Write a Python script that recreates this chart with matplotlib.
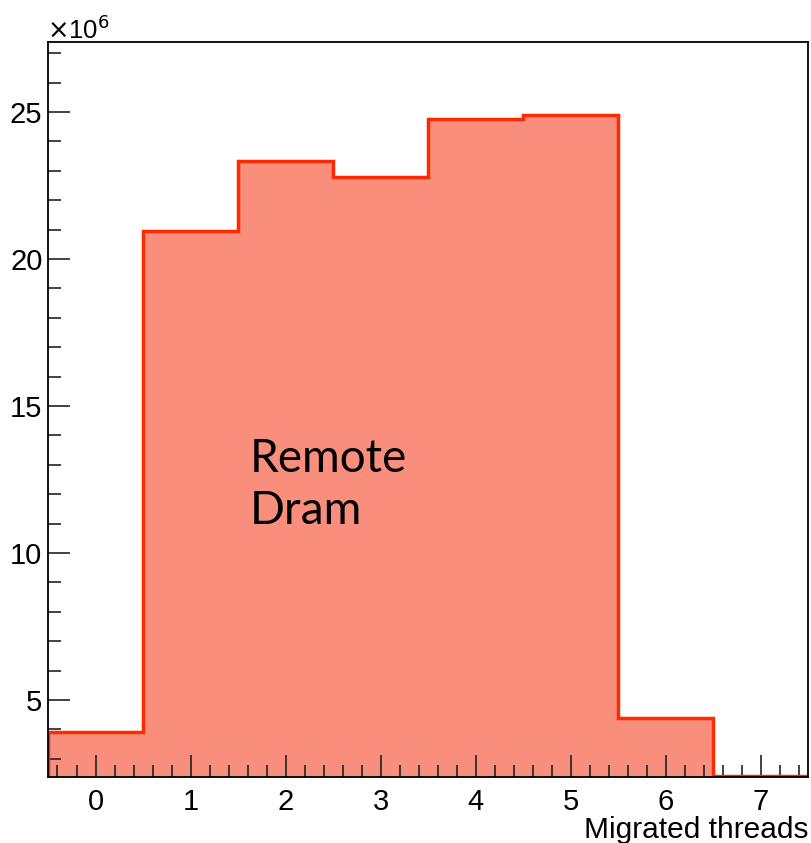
import matplotlib.pyplot as plt
import numpy as np
from matplotlib.ticker import FuncFormatter, MultipleLocator

# Remote DRAM accesses per number of migrated threads
threads = [0, 1, 2, 3, 4, 5, 6, 7]
remote_dram = [3.91e6, 20.95e6, 23.33e6, 22.79e6, 24.76e6, 24.90e6, 4.39e6, 2.40e6]

plt.rcParams["font.family"] = ["Liberation Sans", "DejaVu Sans"]

fig = plt.figure(figsize=(8.11, 8.43), dpi=100)
ax = fig.add_axes([48 / 811, 1 - 777 / 843, 760 / 811, 735 / 843])

edges = np.arange(len(threads) + 1) - 0.5
ax.stairs(remote_dram, edges, baseline=0, fill=True, color="#f98e7d",
          zorder=1)
ax.stairs(remote_dram, edges, baseline=0, color="#ff2a00", linewidth=2.5,
          zorder=2)

ax.set_xlim(-0.5, 7.5)
ax.set_ylim(2.38e6, 27.38e6)

ax.xaxis.set_major_locator(MultipleLocator(1))
ax.xaxis.set_minor_locator(MultipleLocator(0.2))
ax.yaxis.set_major_locator(MultipleLocator(5e6))
ax.yaxis.set_minor_locator(MultipleLocator(1e6))
ax.yaxis.set_major_formatter(FuncFormatter(lambda v, p: f"{v / 1e6:g}"))

ax.tick_params(which="both", direction="in", top=False, right=False,
               labelsize=21, width=1.2, color="#222222")
ax.tick_params(which="major", length=16)
ax.tick_params(which="minor", length=9)
ax.tick_params(axis="x", which="major", pad=8)
ax.tick_params(axis="y", which="major", pad=4)

for sp in ax.spines.values():
    sp.set_linewidth(1.3)
    sp.set_zorder(3)

fig.text(47 / 811, 1 - 39 / 843, r"$\times$10$^{6}$", fontsize=18.5,
         ha="left", va="baseline")
ax.set_xlabel("Migrated threads", fontsize=21.5, ha="right", x=1.0,
              labelpad=0)

ax.text(1.62, 12.3e6, "Remote\nDram", fontsize=33, family="Lato",
        ha="left", va="center", linespacing=1.3, zorder=4)

fig.savefig("out.png", dpi=100)
